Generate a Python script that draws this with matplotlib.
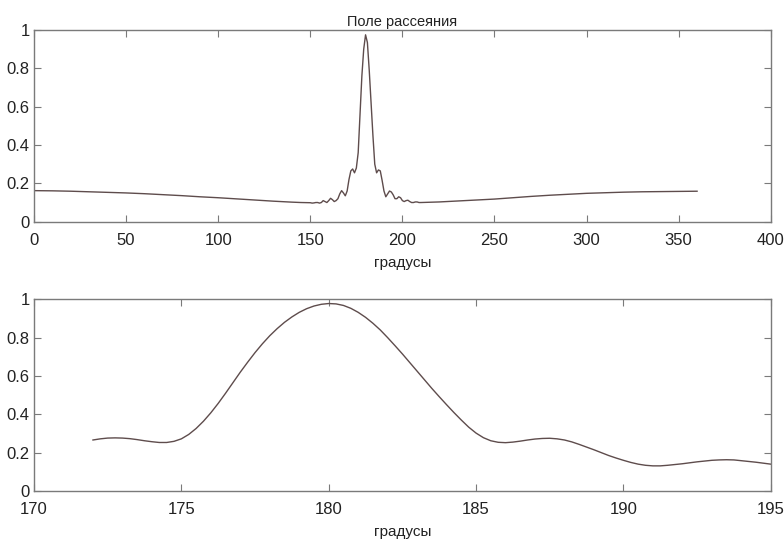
import numpy as np
import matplotlib
matplotlib.use('Agg')
import matplotlib.pyplot as plt

# top panel: full scattering pattern, degrees
deg_full = [0, 10, 20, 30, 40, 50, 60, 70, 80, 90, 100, 110, 120, 130, 140, 145,
            150, 151, 152, 153, 154, 155, 156, 157, 158, 159, 160, 161, 162, 163, 164,
            165, 166, 167, 168, 169, 170, 171, 172, 173, 174, 175, 176, 177, 178, 179,
            180, 181, 182, 183, 184, 185, 186, 187, 188, 189, 190, 191, 192, 193, 194,
            195, 196, 197, 198, 199, 200, 201, 202, 203, 204, 205, 206, 207, 208, 209,
            210, 220, 230, 240, 250, 260, 270, 280, 290, 300, 310, 320, 330, 340, 350, 360]
field_full = [0.162, 0.161, 0.159, 0.156, 0.153, 0.150, 0.146, 0.141, 0.136, 0.130, 0.125,
              0.119, 0.113, 0.107, 0.102, 0.100,
              0.099, 0.097, 0.098, 0.100, 0.100, 0.097, 0.100, 0.110, 0.105, 0.100, 0.110,
              0.122, 0.115, 0.105, 0.110, 0.120, 0.145, 0.162, 0.150, 0.135, 0.160, 0.220,
              0.265, 0.275, 0.255, 0.280, 0.360, 0.560, 0.760, 0.900,
              0.975, 0.935, 0.790, 0.620, 0.450, 0.300, 0.255, 0.270, 0.265, 0.215, 0.160,
              0.130, 0.145, 0.160, 0.155, 0.140, 0.120, 0.120, 0.130, 0.125, 0.110, 0.105,
              0.110, 0.112, 0.105, 0.100, 0.100, 0.103, 0.103, 0.100,
              0.100, 0.103, 0.108, 0.113, 0.118, 0.125, 0.132, 0.138, 0.143, 0.148, 0.151,
              0.154, 0.156, 0.157, 0.158, 0.159]

# bottom panel: main lobe zoom, 0.25 deg steps from 172 to 195
deg_zoom = [172.00, 172.25, 172.50, 172.75, 173.00, 173.25, 173.50, 173.75,
            174.00, 174.25, 174.50, 174.75, 175.00, 175.25, 175.50, 175.75,
            176.00, 176.25, 176.50, 176.75, 177.00, 177.25, 177.50, 177.75,
            178.00, 178.25, 178.50, 178.75, 179.00, 179.25, 179.50, 179.75,
            180.00, 180.25, 180.50, 180.75, 181.00, 181.25, 181.50, 181.75,
            182.00, 182.25, 182.50, 182.75, 183.00, 183.25, 183.50, 183.75,
            184.00, 184.25, 184.50, 184.75, 185.00, 185.25, 185.50, 185.75,
            186.00, 186.25, 186.50, 186.75, 187.00, 187.25, 187.50, 187.75,
            188.00, 188.25, 188.50, 188.75, 189.00, 189.25, 189.50, 189.75,
            190.00, 190.25, 190.50, 190.75, 191.00, 191.25, 191.50, 191.75,
            192.00, 192.25, 192.50, 192.75, 193.00, 193.25, 193.50, 193.75,
            194.00, 194.25, 194.50, 194.75, 195.00]
field_zoom = [0.266, 0.272, 0.276, 0.277, 0.276, 0.273, 0.268, 0.262,
              0.257, 0.253, 0.253, 0.259, 0.272, 0.295, 0.326, 0.364,
              0.408, 0.457, 0.510, 0.565, 0.620, 0.672, 0.722, 0.768,
              0.810, 0.847, 0.880, 0.908, 0.932, 0.951, 0.965, 0.974,
              0.978, 0.976, 0.968, 0.953, 0.932, 0.906, 0.875, 0.840,
              0.800, 0.758, 0.715, 0.670, 0.625, 0.580, 0.535, 0.492,
              0.450, 0.409, 0.370, 0.333, 0.302, 0.278, 0.262, 0.254,
              0.252, 0.255, 0.260, 0.266, 0.271, 0.274, 0.275, 0.272,
              0.266, 0.256, 0.243, 0.229, 0.215, 0.200, 0.185, 0.172,
              0.160, 0.149, 0.140, 0.134, 0.131, 0.131, 0.134, 0.138,
              0.142, 0.147, 0.152, 0.156, 0.160, 0.162, 0.163, 0.162,
              0.158, 0.154, 0.150, 0.145, 0.140]

plt.rcParams['font.family'] = ['Liberation Sans', 'DejaVu Sans']
line_col = '#5e4c4c'
axis_col = '#7a7a7a'
text_col = '#222222'

fig = plt.figure(figsize=(7.84, 5.39), dpi=100)
ax1 = fig.add_axes([0.0434, 0.5887, 0.9397, 0.3556])
ax2 = fig.add_axes([0.0434, 0.0891, 0.9397, 0.3556])

ax1.plot(deg_full, field_full, color=line_col, lw=1.0)
ax1.set_xlim(0, 400)
ax1.set_xticks(np.arange(0, 401, 50))
ax1.set_title('Поле рассеяния', fontsize=10.5, color=text_col, pad=3)

ax2.plot(deg_zoom, field_zoom, color=line_col, lw=1.0)
ax2.set_xlim(170, 195)
ax2.set_xticks(np.arange(170, 196, 5))

for ax in (ax1, ax2):
    ax.set_ylim(0, 1)
    ax.set_yticks([0, 0.2, 0.4, 0.6, 0.8, 1])
    ax.set_yticklabels(['0', '0.2', '0.4', '0.6', '0.8', '1'])
    ax.set_xlabel('градусы', fontsize=11, color=text_col, labelpad=6)
    ax.tick_params(direction='in', length=5, width=0.8, color=axis_col,
                   top=True, right=True, labelsize=12, labelcolor=text_col)
    ax.tick_params(axis='x', pad=8)
    ax.tick_params(axis='y', pad=3)
    for s in ax.spines.values():
        s.set_color(axis_col)
        s.set_linewidth(1.0)

plt.savefig('out.png', dpi=100)
